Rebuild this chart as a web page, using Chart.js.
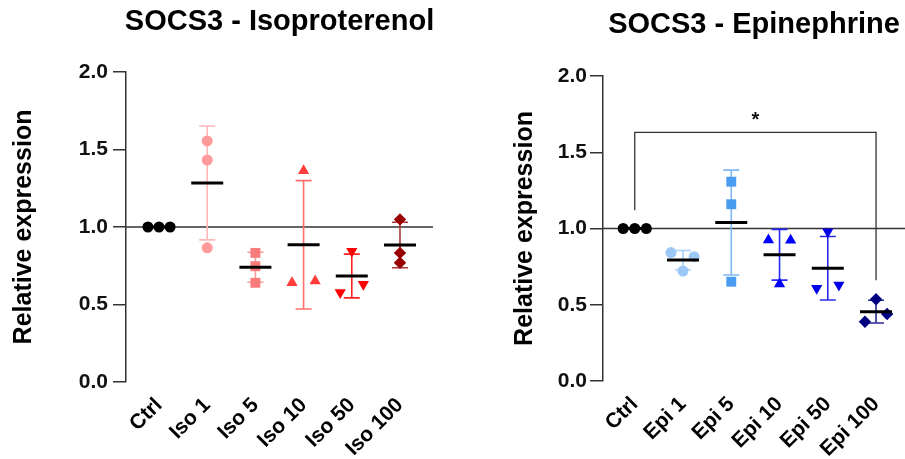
<!DOCTYPE html>
<html>
<head>
<meta charset="utf-8">
<script src="https://cdn.jsdelivr.net/npm/chart.js@4.4.1/dist/chart.umd.min.js"></script>
<style>
  body { margin: 0; background: #fff; }
  .panel { position: absolute; top: 0; }
</style>
</head>
<body>
<div class="panel" style="left:0"><canvas id="isoChart" width="450" height="459"></canvas></div>
<div class="panel" style="left:450px"><canvas id="epiChart" width="455" height="459"></canvas></div>
<script>
// ─── Data ────────────────────────────────────────────────────
const yTicks = [0, 0.5, 1.0, 1.5, 2.0];
const refLevel = 1.0;

const isoLabels = ['Ctrl', 'Iso 1', 'Iso 5', 'Iso 10', 'Iso 50', 'Iso 100'];
const isoValues = [
  [1.00, 1.00, 1.00],
  [1.555, 1.432, 0.866],
  [0.833, 0.747, 0.640],
  [1.363, 0.640, 0.652],
  [0.844, 0.577, 0.631],
  [1.049, 0.833, 0.769]
];
// horizontal scatter of replicate points (category units)
const isoJitter = [
  [-0.23, 0, 0.23],
  [0, 0, 0],
  [0, 0, 0],
  [0, -0.24, 0.24],
  [0, -0.24, 0.24],
  [0, 0, 0]
];

const epiLabels = ['Ctrl', 'Epi 1', 'Epi 5', 'Epi 10', 'Epi 50', 'Epi 100'];
const epiValues = [
  [1.00, 1.00, 1.00],
  [0.842, 0.815, 0.721],
  [1.307, 1.159, 0.651],
  [0.925, 0.923, 0.636],
  [0.979, 0.608, 0.630],
  [0.536, 0.439, 0.389]
];
const epiJitter = [
  [-0.24, 0, 0.24],
  [-0.25, 0.23, 0],
  [0, 0, 0],
  [-0.23, 0.23, 0],
  [0, -0.23, 0.23],
  [0, 0.23, -0.23]
];
// significance bracket: Ctrl vs Epi 100
const epiSigPair = [0, 5];
const epiSigLevels = [1.63, 1.12, 0.66];   // bracket top, left leg end, right leg end
const epiSigLabel = '*';

// ─── Styles ──────────────────────────────────────────────────
const shapes    = ['circle', 'circle', 'rect', 'triangle', 'triangle', 'rectRot'];
const rotations = [0, 0, 0, 0, 180, 0];
const radii     = [5.5, 5.5, 7, 6.5, 6.5, 6.2];

const isoColors    = ['#000000', '#ff9a9a', '#f77b7b', '#ff3d3d', '#ff0000', '#990000'];
const isoBarColors = ['#000000', '#ffb8b8', '#f99a9a', '#ff6e6e', '#ff2020', '#a83a3a'];
const epiColors    = ['#000000', '#9cc8f7', '#4a9cf0', '#0000ff', '#0000e8', '#000080'];
const epiBarColors = ['#000000', '#a9d0fa', '#80b9f5', '#2a2aff', '#2a2ae6', '#2a2a90'];

const FONT = '"Liberation Sans", Arial, sans-serif';
const AXIS = '#333333';

const mean = a => a.reduce((s, v) => s + v, 0) / a.length;
const sd = a => {
  const m = mean(a);
  return Math.sqrt(a.reduce((s, v) => s + (v - m) ** 2, 0) / (a.length - 1));
};

// ─── Panel builder ───────────────────────────────────────────
function makePanel(canvasId, p) {
  const datasets = p.values.map((vals, i) => ({
    label: p.labels[i],
    data: vals.map((v, j) => ({ x: i + p.jitter[i][j], y: v })),
    pointStyle: shapes[i],
    rotation: rotations[i],
    pointRadius: radii[i],
    pointHoverRadius: radii[i],
    backgroundColor: p.colors[i],
    borderColor: p.colors[i],
    borderWidth: 0,
    showLine: false,
    clip: false,
  }));

  const overlay = {
    id: 'overlay',
    beforeDatasetsDraw(chart) {
      const { ctx, chartArea: a, scales: { x, y } } = chart;
      ctx.save();
      // reference line
      ctx.strokeStyle = AXIS;
      ctx.lineWidth = 1.3;
      ctx.beginPath();
      ctx.moveTo(a.left, y.getPixelForValue(refLevel));
      ctx.lineTo(a.right, y.getPixelForValue(refLevel));
      ctx.stroke();

      // SD error bars
      p.values.forEach((vals, i) => {
        const s = sd(vals);
        if (s < 1e-6) return;
        const m = mean(vals);
        const cx = x.getPixelForValue(i);
        const top = y.getPixelForValue(m + s);
        const bot = y.getPixelForValue(m - s);
        ctx.strokeStyle = p.barColors[i];
        ctx.lineWidth = 1.6;
        ctx.beginPath();
        ctx.moveTo(cx, top); ctx.lineTo(cx, bot);
        ctx.moveTo(cx - 8, top); ctx.lineTo(cx + 8, top);
        ctx.moveTo(cx - 8, bot); ctx.lineTo(cx + 8, bot);
        ctx.stroke();
      });

      // significance bracket
      if (p.sigPair) {
        const x1 = x.getPixelForValue(p.sigPair[0]);
        const x2 = x.getPixelForValue(p.sigPair[1]);
        const yt = y.getPixelForValue(p.sigLevels[0]);
        ctx.strokeStyle = AXIS;
        ctx.lineWidth = 1.3;
        ctx.beginPath();
        ctx.moveTo(x1, y.getPixelForValue(p.sigLevels[1]));
        ctx.lineTo(x1, yt);
        ctx.lineTo(x2, yt);
        ctx.lineTo(x2, y.getPixelForValue(p.sigLevels[2]));
        ctx.stroke();
        ctx.fillStyle = '#111';
        ctx.font = 'bold 20px ' + FONT;
        ctx.textAlign = 'center';
        ctx.textBaseline = 'middle';
        ctx.fillText(p.sigLabel, (x1 + x2) / 2, yt - 12);
      }
      ctx.restore();
    },
    afterDatasetsDraw(chart) {
      const { ctx, scales: { x, y } } = chart;
      ctx.save();
      ctx.strokeStyle = '#000';
      ctx.lineWidth = 3;
      p.values.forEach((vals, i) => {
        const cx = x.getPixelForValue(i);
        const my = y.getPixelForValue(mean(vals));
        ctx.beginPath();
        ctx.moveTo(cx - 16, my);
        ctx.lineTo(cx + 16, my);
        ctx.stroke();
      });
      ctx.restore();
    },
    afterDraw(chart) {
      const { ctx, chartArea: a } = chart;
      ctx.save();
      ctx.fillStyle = '#000';
      ctx.font = 'bold 29px ' + FONT;
      ctx.textAlign = 'center';
      ctx.textBaseline = 'middle';
      ctx.fillText(p.title, (a.left + a.right) / 2, p.titleY);
      ctx.restore();
    }
  };

  new Chart(document.getElementById(canvasId), {
    type: 'scatter',
    data: { datasets },
    plugins: [overlay],
    options: {
      responsive: false,
      animation: false,
      events: [],
      layout: {
        autoPadding: false,
        padding: { top: p.top, right: p.right, bottom: 0, left: 0 }
      },
      plugins: { legend: { display: false }, tooltip: { enabled: false } },
      scales: {
        x: {
          type: 'linear',
          min: p.xMin,
          max: p.xMax,
          afterBuildTicks: s => { s.ticks = p.labels.map((_, i) => ({ value: i })); },
          afterFit: s => {
            s.height = p.xAxisHeight;
            s.paddingLeft = 0;
            s.paddingRight = 0;
          },
          grid: { display: false, drawTicks: false },
          border: { display: false },
          ticks: {
            autoSkip: false,
            minRotation: 45,
            maxRotation: 45,
            padding: 11,
            color: '#000',
            font: { family: FONT, size: 21, weight: 'bold' },
            callback: v => p.labels[v] ?? ''
          }
        },
        y: {
          min: 0,
          max: 2,
          afterBuildTicks: s => { s.ticks = yTicks.map(v => ({ value: v })); },
          afterFit: s => { s.width = p.yAxisWidth; },
          grid: { drawOnChartArea: false, drawTicks: true, tickLength: 13, color: AXIS, lineWidth: 1.5 },
          border: { display: true, color: AXIS, width: 1.5 },
          ticks: {
            padding: p.yTickPad,
            color: '#111',
            font: { family: FONT, size: 21, weight: 'bold' },
            callback: v => v.toFixed(1)
          },
          title: {
            display: true,
            text: 'Relative expression',
            color: '#000',
            font: { family: FONT, size: 25, weight: 'bold' },
            padding: { top: p.yTitlePad, bottom: 0 }
          }
        }
      }
    }
  });
}

makePanel('isoChart', {
  title: 'SOCS3 - Isoproterenol', titleY: 22,
  labels: isoLabels, values: isoValues, jitter: isoJitter,
  colors: isoColors, barColors: isoBarColors,
  top: 72, right: 17, xMin: -0.685, xMax: 5.685,
  yAxisWidth: 126, xAxisHeight: 77, yTitlePad: 9, yTickPad: 5
});

makePanel('epiChart', {
  title: 'SOCS3 - Epinephrine', titleY: 25,
  labels: epiLabels, values: epiValues, jitter: epiJitter,
  colors: epiColors, barColors: epiBarColors,
  sigPair: epiSigPair, sigLevels: epiSigLevels, sigLabel: epiSigLabel,
  top: 76, right: 0, xMin: -0.658, xMax: 5.6,
  yAxisWidth: 153, xAxisHeight: 78, yTitlePad: 60, yTickPad: 3
});
</script>
</body>
</html>
